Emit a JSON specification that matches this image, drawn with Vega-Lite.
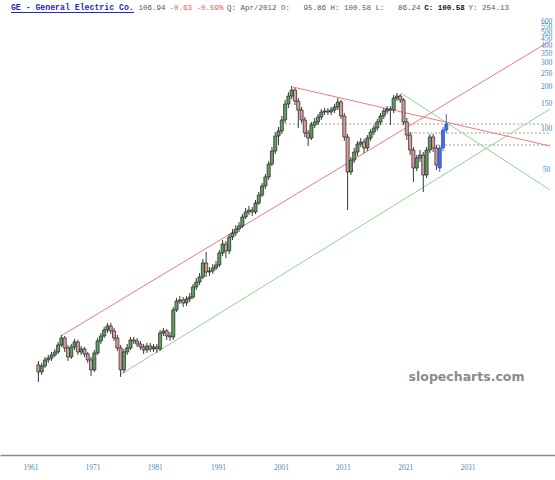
{
  "$schema": "https://vega.github.io/schema/vega-lite/v6.json",
  "width": 555,
  "height": 455,
  "autosize": {"type": "none"},
  "padding": {"left": 0, "top": 0, "right": 0, "bottom": 25},
  "background": "white",
  "config": {"view": {"stroke": null}, "axis": {"grid": false}},
  "datasets": {
    "q": [
      {"t":1962.0,"o":1.864,"h":1.994,"l":1.401,"c":1.657},
      {"t":1962.5,"o":1.657,"h":1.928,"l":1.576,"c":1.833},
      {"t":1963.0,"o":1.833,"h":2.132,"l":1.772,"c":2.028},
      {"t":1963.5,"o":2.028,"h":2.205,"l":1.928,"c":2.096},
      {"t":1964.0,"o":2.096,"h":2.319,"l":1.994,"c":2.205},
      {"t":1964.5,"o":2.205,"h":2.439,"l":2.132,"c":2.319},
      {"t":1965.0,"o":2.319,"h":2.743,"l":2.242,"c":2.609},
      {"t":1965.5,"o":2.609,"h":3.086,"l":2.523,"c":2.934},
      {"t":1966.0,"o":2.934,"h":3.034,"l":2.319,"c":2.480},
      {"t":1966.5,"o":2.480,"h":2.609,"l":1.994,"c":2.132},
      {"t":1967.0,"o":2.132,"h":2.652,"l":2.061,"c":2.523},
      {"t":1967.5,"o":2.523,"h":2.885,"l":2.398,"c":2.743},
      {"t":1968.0,"o":2.743,"h":2.837,"l":2.205,"c":2.319},
      {"t":1968.5,"o":2.319,"h":2.565,"l":2.205,"c":2.439},
      {"t":1969.0,"o":2.439,"h":2.523,"l":2.132,"c":2.242},
      {"t":1969.5,"o":2.242,"h":2.319,"l":1.928,"c":2.028},
      {"t":1970.0,"o":2.028,"h":2.132,"l":1.550,"c":1.714},
      {"t":1970.5,"o":1.714,"h":2.398,"l":1.657,"c":2.280},
      {"t":1971.0,"o":2.280,"h":2.934,"l":2.205,"c":2.790},
      {"t":1971.5,"o":2.790,"h":3.191,"l":2.652,"c":3.034},
      {"t":1972.0,"o":3.034,"h":3.529,"l":2.934,"c":3.356},
      {"t":1972.5,"o":3.356,"h":3.774,"l":3.191,"c":3.589},
      {"t":1973.0,"o":3.589,"h":3.774,"l":3.137,"c":3.300},
      {"t":1973.5,"o":3.300,"h":3.470,"l":2.790,"c":2.934},
      {"t":1974.0,"o":2.934,"h":3.086,"l":2.358,"c":2.480},
      {"t":1974.5,"o":2.480,"h":2.609,"l":1.524,"c":1.714},
      {"t":1975.0,"o":1.714,"h":2.439,"l":1.630,"c":2.319},
      {"t":1975.5,"o":2.319,"h":2.652,"l":2.205,"c":2.480},
      {"t":1976.0,"o":2.480,"h":2.984,"l":2.398,"c":2.837},
      {"t":1976.5,"o":2.837,"h":2.984,"l":2.652,"c":2.790},
      {"t":1977.0,"o":2.790,"h":2.934,"l":2.523,"c":2.652},
      {"t":1977.5,"o":2.652,"h":2.790,"l":2.398,"c":2.523},
      {"t":1978.0,"o":2.523,"h":2.652,"l":2.242,"c":2.398},
      {"t":1978.5,"o":2.398,"h":2.697,"l":2.280,"c":2.565},
      {"t":1979.0,"o":2.565,"h":2.697,"l":2.319,"c":2.439},
      {"t":1979.5,"o":2.439,"h":2.652,"l":2.319,"c":2.523},
      {"t":1980.0,"o":2.523,"h":2.652,"l":2.280,"c":2.439},
      {"t":1980.5,"o":2.439,"h":3.356,"l":2.358,"c":3.191},
      {"t":1981.0,"o":3.191,"h":3.470,"l":3.034,"c":3.300},
      {"t":1981.5,"o":3.300,"h":3.412,"l":2.837,"c":3.034},
      {"t":1982.0,"o":3.034,"h":3.245,"l":2.790,"c":2.984},
      {"t":1982.5,"o":2.984,"h":4.939,"l":2.837,"c":4.696},
      {"t":1983.0,"o":4.696,"h":5.744,"l":4.541,"c":5.462},
      {"t":1983.5,"o":5.462,"h":5.941,"l":5.193,"c":5.555},
      {"t":1984.0,"o":5.555,"h":5.842,"l":4.939,"c":5.281},
      {"t":1984.5,"o":5.281,"h":5.941,"l":5.023,"c":5.648},
      {"t":1985.0,"o":5.648,"h":6.247,"l":5.371,"c":5.842},
      {"t":1985.5,"o":5.842,"h":7.266,"l":5.648,"c":6.911},
      {"t":1986.0,"o":6.911,"h":8.037,"l":6.571,"c":7.516},
      {"t":1986.5,"o":7.516,"h":8.742,"l":7.147,"c":8.174},
      {"t":1987.0,"o":8.174,"h":11.06,"l":7.903,"c":10.34},
      {"t":1987.5,"o":10.34,"h":12.44,"l":8.174,"c":8.891},
      {"t":1988.0,"o":8.891,"h":9.669,"l":8.313,"c":9.041},
      {"t":1988.5,"o":9.041,"h":10.17,"l":8.596,"c":9.507},
      {"t":1989.0,"o":9.507,"h":10.70,"l":9.195,"c":10.00},
      {"t":1989.5,"o":10.00,"h":12.87,"l":9.669,"c":12.24},
      {"t":1990.0,"o":12.24,"h":15.22,"l":11.63,"c":14.23},
      {"t":1990.5,"o":14.23,"h":14.97,"l":11.25,"c":12.66},
      {"t":1991.0,"o":12.66,"h":16.84,"l":12.03,"c":16.01},
      {"t":1991.5,"o":16.01,"h":18.31,"l":15.22,"c":17.12},
      {"t":1992.0,"o":17.12,"h":19.59,"l":16.28,"c":18.31},
      {"t":1992.5,"o":18.31,"h":20.60,"l":17.41,"c":19.26},
      {"t":1993.0,"o":19.26,"h":23.56,"l":18.62,"c":22.40},
      {"t":1993.5,"o":22.40,"h":26.06,"l":21.66,"c":24.37},
      {"t":1994.0,"o":24.37,"h":26.95,"l":23.17,"c":25.20},
      {"t":1994.5,"o":25.20,"h":26.50,"l":22.78,"c":24.37},
      {"t":1995.0,"o":24.37,"h":29.81,"l":23.56,"c":28.34},
      {"t":1995.5,"o":28.34,"h":34.10,"l":27.41,"c":32.42},
      {"t":1996.0,"o":32.42,"h":39.66,"l":31.35,"c":37.72},
      {"t":1996.5,"o":37.72,"h":46.14,"l":35.86,"c":43.88},
      {"t":1997.0,"o":43.88,"h":57.42,"l":41.72,"c":54.59},
      {"t":1997.5,"o":54.59,"h":72.66,"l":52.79,"c":67.94},
      {"t":1998.0,"o":67.94,"h":93.50,"l":64.58,"c":87.42},
      {"t":1998.5,"o":87.42,"h":101.7,"l":75.15,"c":95.09},
      {"t":1999.0,"o":95.09,"h":122.3,"l":90.40,"c":114.4},
      {"t":1999.5,"o":114.4,"h":160.1,"l":108.8,"c":149.7},
      {"t":2000.0,"o":149.7,"h":183.1,"l":139.9,"c":171.2},
      {"t":2000.5,"o":171.2,"h":202.6,"l":162.7,"c":189.4},
      {"t":2001.0,"o":189.4,"h":195.8,"l":147.2,"c":157.4},
      {"t":2001.5,"o":157.4,"h":165.5,"l":100.0,"c":135.3},
      {"t":2002.0,"o":135.3,"h":142.3,"l":108.8,"c":114.4},
      {"t":2002.5,"o":114.4,"h":120.3,"l":85.96,"c":91.93},
      {"t":2003.0,"o":91.93,"h":96.70,"l":73.90,"c":84.52},
      {"t":2003.5,"o":84.52,"h":110.6,"l":81.73,"c":105.2},
      {"t":2004.0,"o":105.2,"h":118.3,"l":100.0,"c":110.6},
      {"t":2004.5,"o":110.6,"h":126.5,"l":105.2,"c":120.3},
      {"t":2005.0,"o":120.3,"h":137.6,"l":114.4,"c":130.8},
      {"t":2005.5,"o":130.8,"h":139.9,"l":124.4,"c":133.0},
      {"t":2006.0,"o":133.0,"h":139.9,"l":124.4,"c":130.8},
      {"t":2006.5,"o":130.8,"h":142.3,"l":124.4,"c":135.3},
      {"t":2007.0,"o":135.3,"h":149.7,"l":128.6,"c":142.3},
      {"t":2007.5,"o":142.3,"h":165.5,"l":135.3,"c":154.8},
      {"t":2008.0,"o":154.8,"h":160.1,"l":116.3,"c":122.3},
      {"t":2008.5,"o":122.3,"h":128.6,"l":80.37,"c":85.96},
      {"t":2009.0,"o":85.96,"h":90.40,"l":25.20,"c":47.73},
      {"t":2009.5,"o":47.73,"h":61.42,"l":45.38,"c":58.40},
      {"t":2010.0,"o":58.40,"h":71.44,"l":55.52,"c":66.80},
      {"t":2010.5,"o":66.80,"h":80.37,"l":62.46,"c":76.40},
      {"t":2011.0,"o":76.40,"h":84.52,"l":72.66,"c":79.03},
      {"t":2011.5,"o":79.03,"h":83.10,"l":65.68,"c":71.44},
      {"t":2012.0,"o":71.44,"h":88.90,"l":67.94,"c":84.52},
      {"t":2012.5,"o":84.52,"h":98.33,"l":80.37,"c":93.50},
      {"t":2013.0,"o":93.50,"h":105.2,"l":88.90,"c":100.0},
      {"t":2013.5,"o":100.0,"h":116.3,"l":95.09,"c":110.6},
      {"t":2014.0,"o":110.6,"h":128.6,"l":105.2,"c":122.3},
      {"t":2014.5,"o":122.3,"h":139.9,"l":116.3,"c":133.0},
      {"t":2015.0,"o":133.0,"h":144.7,"l":126.5,"c":137.6},
      {"t":2015.5,"o":137.6,"h":144.7,"l":105.2,"c":135.3},
      {"t":2016.0,"o":135.3,"h":174.1,"l":128.6,"c":165.5},
      {"t":2016.5,"o":165.5,"h":180.1,"l":157.4,"c":171.2},
      {"t":2017.0,"o":171.2,"h":177.1,"l":152.2,"c":160.1},
      {"t":2017.5,"o":160.1,"h":165.5,"l":105.2,"c":110.6},
      {"t":2018.0,"o":110.6,"h":118.3,"l":81.73,"c":88.90},
      {"t":2018.5,"o":88.90,"h":93.50,"l":63.52,"c":69.09},
      {"t":2019.0,"o":69.09,"h":72.66,"l":40.34,"c":51.04},
      {"t":2019.5,"o":51.04,"h":63.52,"l":48.54,"c":60.39},
      {"t":2020.0,"o":60.39,"h":69.09,"l":56.47,"c":63.52},
      {"t":2020.5,"o":63.52,"h":66.80,"l":34.10,"c":45.38},
      {"t":2021.0,"o":45.38,"h":72.66,"l":43.14,"c":69.09},
      {"t":2021.5,"o":69.09,"h":90.40,"l":65.68,"c":85.96},
      {"t":2022.0,"o":85.96,"h":90.40,"l":66.80,"c":71.44},
      {"t":2022.5,"o":71.44,"h":75.15,"l":49.36,"c":53.69},
      {"t":2023.0,"o":51.04,"h":75.15,"l":47.73,"c":71.44},
      {"t":2023.5,"o":71.44,"h":101.7,"l":67.94,"c":96.70},
      {"t":2024.0,"o":96.70,"h":126.5,"l":91.93,"c":106.94}
    ],
    "trend": [
      {"id":"r1","t":1965.43,"v":3.034},
      {"id":"r1","t":2039.76,"v":431.6},
      {"id":"r2","t":2000.66,"v":199.2},
      {"id":"r2","t":2039.76,"v":73.9},
      {"id":"g1","t":1974.39,"v":1.576},
      {"id":"g1","t":2039.76,"v":137.6},
      {"id":"g2","t":2017.1,"v":180.1},
      {"id":"g2","t":2039.76,"v":35.3}
    ],
    "levels": [
      {"t0":1999.5,"t1":2039.76,"v":106.94},
      {"t0":2018.6,"t1":2039.76,"v":91.93},
      {"t0":2022.6,"t1":2039.76,"v":75.15}
    ],
    "one": [{}]
  },
  "layer": [
    {
      "data": {"name": "levels"},
      "mark": {"type": "rule", "color": "#9a9a9a", "strokeWidth": 1, "strokeDash": [2, 2]},
      "encoding": {
        "x": {
          "field": "t0", "type": "quantitative",
          "scale": {"domain": [1956.925, 2039.761], "nice": false, "zero": false},
          "axis": {
            "values": [1960.81, 1970.21, 1979.69, 1989.31, 1998.87, 2008.27, 2017.75, 2027.22],
            "labelExpr": "['1961','1971','1981','1991','2001','2011','2021','2031'][round((datum.value - 1960.81) / 9.487)]",
            "title": null, "ticks": false, "grid": false,
            "domainColor": "#888888", "domainWidth": 1.5,
            "labelFont": "Liberation Serif", "labelFontSize": 7.5, "labelColor": "#4f88b4",
            "labelPadding": 8, "labelFlush": false, "labelOverlap": false
          }
        },
        "x2": {"field": "t1"},
        "y": {
          "field": "v", "type": "quantitative",
          "scale": {"type": "log", "domain": [0.4102, 859.8], "nice": false, "zero": false},
          "axis": {
            "orient": "right", "offset": -9,
            "values": [50, 100, 150, 200, 250, 300, 350, 400, 450, 500, 550, 600],
            "format": "d", "title": null, "ticks": false, "domain": false, "grid": false,
            "labelAlign": "center", "labelBaseline": "middle", "labelPadding": 0,
            "labelFont": "Liberation Serif", "labelFontSize": 7.5, "labelColor": "#3a86cc",
            "labelOverlap": false, "labelFlush": false
          }
        }
      }
    },
    {
      "data": {"name": "trend"},
      "mark": {"type": "line", "strokeWidth": 1, "clip": true},
      "encoding": {
        "x": {"field": "t", "type": "quantitative"},
        "y": {"field": "v", "type": "quantitative"},
        "detail": {"field": "id"},
        "color": {"field": "id", "type": "nominal", "scale": {"domain": ["r1", "r2", "g1", "g2"], "range": ["#f07b7b", "#f07b7b", "#8ed68e", "#8ed68e"]}, "legend": null}
      }
    },
    {
      "data": {"name": "q"},
      "mark": {"type": "rule", "strokeWidth": 0.9},
      "encoding": {
        "x": {"field": "t", "type": "quantitative"},
        "y": {"field": "h", "type": "quantitative"},
        "y2": {"field": "l"},
        "color": {"condition": {"test": "datum.t >= 2023", "value": "#2d52b8"}, "value": "#222222"}
      }
    },
    {
      "data": {"name": "q"},
      "mark": {"type": "bar", "width": 3.1, "strokeWidth": 0.7},
      "encoding": {
        "x": {"field": "t", "type": "quantitative"},
        "y": {"field": "o", "type": "quantitative"},
        "y2": {"field": "c"},
        "fill": {
          "condition": [
            {"test": "datum.t >= 2023", "value": "#3d6fd6"},
            {"test": "datum.c >= datum.o", "value": "#5e9e5e"}
          ],
          "value": "#d89a9a"
        },
        "stroke": {"condition": {"test": "datum.t >= 2023", "value": "#2d52b8"}, "value": "#222222"}
      }
    },
    {
      "data": {"name": "one"},
      "mark": {"type": "text", "text": "slopecharts.com", "font": "DejaVu Sans", "fontWeight": "bold", "fontSize": 12.5, "color": "#8a8a8a", "align": "center", "baseline": "middle"},
      "encoding": {
        "x": {"datum": 2027.07, "type": "quantitative"},
        "y": {"datum": 1.524, "type": "quantitative"}
      }
    },
    {
      "data": {"name": "one"},
      "mark": {"type": "rule", "color": "#2626c8", "strokeWidth": 1},
      "encoding": {
        "x": {"datum": 1957.821, "type": "quantitative"},
        "x2": {"datum": 1976.55},
        "y": {"datum": 696.7, "type": "quantitative"}
      }
    },
    {
      "data": {"name": "one"},
      "mark": {"type": "text", "text": "GE - General Electric Co.", "font": "Liberation Mono", "fontWeight": "bold", "fontSize": 8.2, "color": "#2626c8", "align": "left", "baseline": "middle"},
      "encoding": {
        "x": {"datum": 1957.821, "type": "quantitative"},
        "y": {"datum": 751.4, "type": "quantitative"}
      }
    },
    {
      "data": {"name": "one"},
      "mark": {"type": "text", "text": "106.94", "font": "Liberation Mono", "fontSize": 7.5, "color": "#555555", "align": "left", "baseline": "middle"},
      "encoding": {
        "x": {"datum": 1977.224, "type": "quantitative"},
        "y": {"datum": 751.4, "type": "quantitative"}
      }
    },
    {
      "data": {"name": "one"},
      "mark": {"type": "text", "text": "-0.63 -0.59%", "font": "Liberation Mono", "fontSize": 7.5, "color": "#e05a5a", "align": "left", "baseline": "middle"},
      "encoding": {
        "x": {"datum": 1981.925, "type": "quantitative"},
        "y": {"datum": 751.4, "type": "quantitative"}
      }
    },
    {
      "data": {"name": "one"},
      "mark": {"type": "text", "text": "Q: Apr/2012 O:\u00a0\u00a0 95.86 H: 100.58 L:\u00a0\u00a0 86.24", "font": "Liberation Mono", "fontSize": 7.5, "color": "#555555", "align": "left", "baseline": "middle"},
      "encoding": {
        "x": {"datum": 1990.672, "type": "quantitative"},
        "y": {"datum": 751.4, "type": "quantitative"}
      }
    },
    {
      "data": {"name": "one"},
      "mark": {"type": "text", "text": "C: 100.58", "font": "Liberation Mono", "fontWeight": "bold", "fontSize": 7.5, "color": "#111111", "align": "left", "baseline": "middle"},
      "encoding": {
        "x": {"datum": 2020.656, "type": "quantitative"},
        "y": {"datum": 751.4, "type": "quantitative"}
      }
    },
    {
      "data": {"name": "one"},
      "mark": {"type": "text", "text": "Y: 254.13", "font": "Liberation Mono", "fontSize": 7.5, "color": "#555555", "align": "left", "baseline": "middle"},
      "encoding": {
        "x": {"datum": 2027.373, "type": "quantitative"},
        "y": {"datum": 751.4, "type": "quantitative"}
      }
    }
  ]
}
